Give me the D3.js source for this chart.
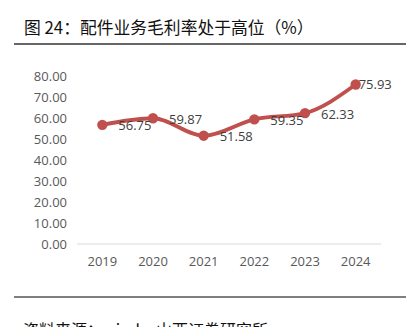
<!DOCTYPE html>
<html><head><meta charset="utf-8">
<script src="https://cdn.jsdelivr.net/npm/d3@7"></script>
<style>
html,body{margin:0;padding:0;background:#fff;overflow:hidden;}
svg{display:block;}
</style></head>
<body>
<svg id="c" width="415" height="327"></svg>
<script>
const years = ["2019","2020","2021","2022","2023","2024"];
const margin = [56.75, 59.87, 51.58, 59.35, 62.33, 75.93];
const yTicks = [0,10,20,30,40,50,60,70,80];
const title = "图 24：配件业务毛利率处于高位（%）";
const source = "资料来源：wind，山西证券研究所";

const svg = d3.select("#c");
const x = d3.scaleBand().domain(years).range([77,381]);
const y = d3.scaleLinear().domain([0,80]).range([244,76]);
const cjk = "'Noto Sans CJK SC', sans-serif";
const num = "'Open Sans', 'Noto Sans', sans-serif";

svg.append("text").attr("x",24).attr("y",34).attr("font-family",cjk).attr("font-size",16.8)
  .attr("fill","#111").text(title);
svg.append("line").attr("x1",14).attr("x2",406).attr("y1",44).attr("y2",44).attr("stroke","#333").attr("stroke-width",1.3);
svg.append("line").attr("x1",14).attr("x2",406).attr("y1",297).attr("y2",297).attr("stroke","#555").attr("stroke-width",1.3);
svg.append("text").attr("x",23).attr("y",336).attr("font-family",cjk).attr("font-size",16)
  .attr("fill","#111").text(source);

// baseline gridline
svg.append("line").attr("x1",77).attr("x2",381).attr("y1",y(0)).attr("y2",y(0)).attr("stroke","#d9d9d9").attr("stroke-width",1);

// y axis labels
const yAxis = d3.axisLeft(y).tickValues(yTicks).tickFormat(d3.format(".2f")).tickSize(0).tickPadding(10);
const gy = svg.append("g").attr("transform","translate(77,0)").call(yAxis);
gy.select(".domain").remove();
gy.selectAll("text").attr("font-family",num).attr("font-size",13).attr("fill","#595959");

// x axis labels
const xAxis = d3.axisBottom(x).tickSize(0).tickPadding(13);
const gx = svg.append("g").attr("transform",`translate(0,${y(0)})`).call(xAxis);
gx.select(".domain").remove();
gx.selectAll("text").attr("font-family",num).attr("font-size",13).attr("fill","#595959");

const cx = d => x(d) + x.bandwidth()/2;
const pts = years.map((yr,i)=>[cx(yr), y(margin[i])]);
const line = d3.line().curve(d3.curveMonotoneX);
svg.append("path").attr("d",line(pts)).attr("fill","none").attr("stroke","#c0504d").attr("stroke-width",3.8).attr("stroke-linecap","round");
svg.selectAll("circle.pt").data(pts).enter().append("circle").attr("class","pt")
  .attr("cx",d=>d[0]).attr("cy",d=>d[1]).attr("r",5.2).attr("fill","#c0504d");

svg.selectAll("text.lbl").data(margin).enter().append("text").attr("class","lbl")
  .attr("x",(d,i)=>cx(years[i]) + (i===years.length-1 ? 3 : 16))
  .attr("y",(d,i)=>y(d)+ (i===years.length-1?0:1))
  .attr("dy","0.35em")
  .attr("font-family",num).attr("font-size",13).attr("fill","#404040")
  .text(d=>d3.format(".2f")(d));
</script>
</body></html>
